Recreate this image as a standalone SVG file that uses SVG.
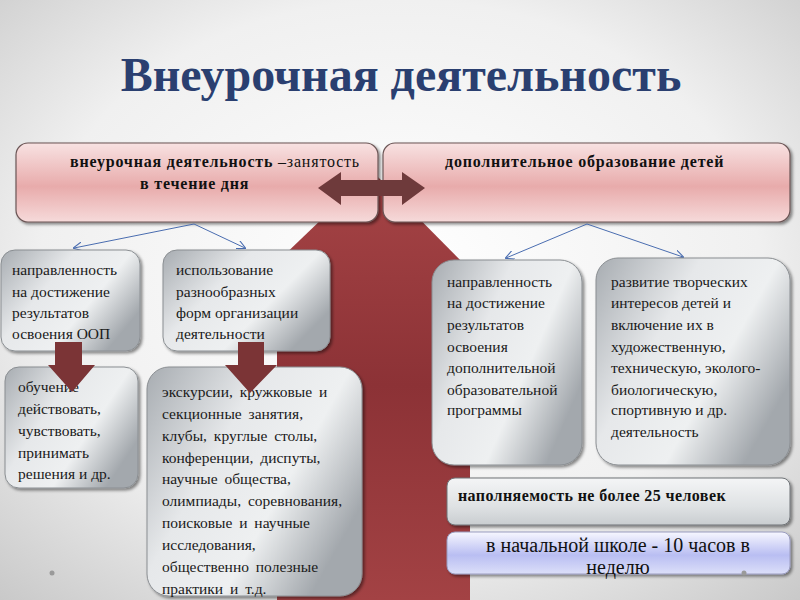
<svg xmlns="http://www.w3.org/2000/svg" width="800" height="600" viewBox="0 0 800 600">
<defs>
<radialGradient id="bg" cx="50%" cy="45%" r="75%">
<stop offset="0" stop-color="#ffffff"/><stop offset="0.6" stop-color="#f0f0f0"/><stop offset="1" stop-color="#c8c8c8"/>
</radialGradient>
<linearGradient id="pink" x1="0" y1="0" x2="0" y2="1">
<stop offset="0" stop-color="#f8e2e2"/><stop offset="0.55" stop-color="#e8abab"/><stop offset="1" stop-color="#f6dada"/>
</linearGradient>
<linearGradient id="silver" x1="0" y1="0" x2="1" y2="0.6">
<stop offset="0" stop-color="#a7acb1"/><stop offset="0.4" stop-color="#e6e8ea"/><stop offset="0.7" stop-color="#eef0f1"/><stop offset="1" stop-color="#a3a8ad"/>
</linearGradient>
<linearGradient id="silverH" x1="0" y1="0" x2="0" y2="1">
<stop offset="0" stop-color="#f4f5f6"/><stop offset="0.6" stop-color="#dfe2e4"/><stop offset="1" stop-color="#c9cdd0"/>
</linearGradient>
<linearGradient id="blue" x1="0" y1="0" x2="0" y2="1">
<stop offset="0" stop-color="#f7f7ff"/><stop offset="0.55" stop-color="#b9bef2"/><stop offset="1" stop-color="#dcdff9"/>
</linearGradient>
<linearGradient id="red" x1="0" y1="0" x2="0" y2="1">
<stop offset="0" stop-color="#a64446"/><stop offset="0.5" stop-color="#8c3236"/><stop offset="1" stop-color="#a34244"/>
</linearGradient>
<filter id="sh" x="-10%" y="-10%" width="130%" height="130%">
<feDropShadow dx="2" dy="2" stdDeviation="1.5" flood-color="#000" flood-opacity="0.45"/>
</filter>
<marker id="oa" viewBox="0 0 10 10" refX="9" refY="5" markerWidth="9" markerHeight="9" orient="auto" markerUnits="userSpaceOnUse">
<path d="M0,0 L10,5 L0,10" fill="none" stroke="#4a6db0" stroke-width="1.2"/>
</marker>
<style>
.t{font-family:"Liberation Serif","Times New Roman",serif;font-size:15.5px;fill:#1a1a1a}
.b{font-family:"Liberation Serif","Times New Roman",serif;font-size:16px;font-weight:bold;fill:#111;letter-spacing:0.8px}
.box{fill:url(#silver);stroke:#8a8e92;stroke-width:1;filter:url(#sh)}
.pk{fill:url(#pink);stroke:#6b5555;stroke-width:1.2;filter:url(#sh)}
.dn{fill:#7b3436}
.cn{stroke:#4a6db0;stroke-width:1;fill:none;marker-end:url(#oa)}
</style>
</defs>
<rect width="800" height="600" fill="url(#bg)"/>
<g id="big-arrow">
<polygon points="372,171 470,270 470,600 277,600 277,262" fill="url(#red)"/>
</g>
<text x="401" y="91" text-anchor="middle" font-family="Liberation Serif,serif" font-size="48" font-weight="bold" fill="#2a3f70">Внеурочная деятельность</text>
<g id="top-left">
<rect class="pk" x="16" y="143" width="362" height="79" rx="12"/>
<text class="b" x="70" y="167">внеурочная деятельность <tspan font-weight="normal">–занятость</tspan></text>
<text class="b" x="140" y="189">в течение дня</text>
</g>
<g id="top-right">
<rect class="pk" x="383" y="143" width="407" height="79" rx="12"/>
<text class="b" x="445" y="167">дополнительное образование детей</text>
</g>
<g id="double-arrow">
<polygon points="318,188 341,172 341,180 402,180 402,172 425,188 402,205 402,196 341,196 341,205" fill="#6e3a3b"/>
</g>
<g id="connectors">
<line class="cn" x1="194" y1="224" x2="74" y2="248"/>
<line class="cn" x1="194" y1="224" x2="245" y2="248"/>
<line class="cn" x1="587" y1="224" x2="506" y2="258"/>
<line class="cn" x1="587" y1="224" x2="683" y2="257"/>
</g>
<g id="box-napr1">
<rect class="box" x="1" y="250" width="139" height="101" rx="14"/>
<text class="t" x="12" y="275">направленность</text>
<text class="t" x="12" y="297">на достижение</text>
<text class="t" x="12" y="318">результатов</text>
<text class="t" x="12" y="339">освоения ООП</text>
</g>
<g id="box-ispolz">
<rect class="box" x="163" y="250" width="167" height="101" rx="14"/>
<text class="t" x="176" y="275">использование</text>
<text class="t" x="176" y="297">разнообразных</text>
<text class="t" x="176" y="318">форм организации</text>
<text class="t" x="176" y="339">деятельности</text>
</g>
<g id="box-obuch">
<rect class="box" x="5" y="367" width="133" height="121" rx="14"/>
<text class="t" x="18" y="392">обучение</text>
<text class="t" x="18" y="414">действовать,</text>
<text class="t" x="18" y="436">чувствовать,</text>
<text class="t" x="18" y="458">принимать</text>
<text class="t" x="18" y="479">решения и др.</text>
</g>
<g id="box-ekskurs">
<rect class="box" x="147" y="367" width="215" height="229" rx="22"/>
<g word-spacing="3">
<text class="t" x="162" y="397">экскурсии, кружковые и</text>
<text class="t" x="162" y="419">секционные занятия,</text>
<text class="t" x="162" y="441">клубы,  круглые столы,</text>
<text class="t" x="162" y="463">конференции, диспуты,</text>
<text class="t" x="162" y="484">научные общества,</text>
<text class="t" x="162" y="506">олимпиады, соревнования,</text>
<text class="t" x="162" y="528">поисковые и научные</text>
<text class="t" x="162" y="550">исследования,</text>
<text class="t" x="162" y="572">общественно полезные</text>
<text class="t" x="162" y="594">практики и т.д.</text>
</g>
</g>
<g id="down-arrow-1">
<polygon class="dn" points="55,342 82,342 82,365 95,365 72,392 48,365 55,365"/>
</g>
<g id="down-arrow-2">
<polygon class="dn" points="238,342 264,342 264,365 277,365 250,393 225,365 238,365"/>
</g>
<g id="box-napr2">
<rect class="box" x="432" y="260" width="150" height="205" rx="22"/>
<text class="t" x="447" y="287">направленность</text>
<text class="t" x="447" y="308">на достижение</text>
<text class="t" x="447" y="330">результатов</text>
<text class="t" x="447" y="352">освоения</text>
<text class="t" x="447" y="373">дополнительной</text>
<text class="t" x="447" y="395">образовательной</text>
<text class="t" x="447" y="415">программы</text>
</g>
<g id="box-razv">
<rect class="box" x="596" y="258" width="194" height="207" rx="22"/>
<text class="t" x="611" y="287">развитие творческих</text>
<text class="t" x="611" y="308">интересов детей и</text>
<text class="t" x="611" y="330">включение их в</text>
<text class="t" x="611" y="352">художественную,</text>
<text class="t" x="611" y="373">техническую, эколого-</text>
<text class="t" x="611" y="395">биологическую,</text>
<text class="t" x="611" y="415">спортивную и др.</text>
<text class="t" x="611" y="437">деятельность</text>
</g>
<g id="box-napoln">
<rect x="447" y="478" width="343" height="47" rx="8" fill="url(#silverH)" stroke="#6f7377" stroke-width="1" filter="url(#sh)"/>
<text class="b" x="458" y="501" style="letter-spacing:0.4px">наполняемость не более 25 человек</text>
</g>
<g id="box-chasy">
<rect x="447" y="532" width="343" height="42" rx="8" fill="url(#blue)" stroke="#9a9cc0" stroke-width="1" filter="url(#sh)"/>
<text x="618" y="552" text-anchor="middle" font-family="Liberation Serif,serif" font-size="20" fill="#111">в начальной школе - 10 часов в</text>
<text x="618" y="574" text-anchor="middle" font-family="Liberation Serif,serif" font-size="20" fill="#111">неделю</text>
</g>
<circle cx="52" cy="573" r="2.5" fill="#9a9a9a"/>
<circle cx="744" cy="573" r="2.5" fill="#9a9a9a"/>
</svg>
